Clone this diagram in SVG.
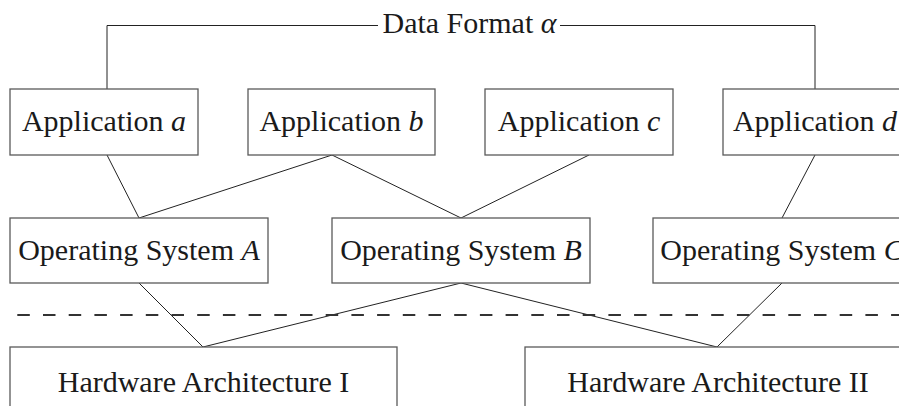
<svg xmlns="http://www.w3.org/2000/svg" width="899" height="406" viewBox="0 0 899 406">
<style>
.box{fill:#ffffff;stroke:#5a5a5a;stroke-width:1.3}
.lbl{font-family:"Liberation Serif","Times New Roman",serif;font-size:30px;fill:#1a1a1a;text-anchor:middle}
.it{font-style:italic}
.con{fill:none;stroke:#222222;stroke-width:1}
.dash{fill:none;stroke:#333333;stroke-width:2;stroke-dasharray:12.5 13.2}
</style>
<rect width="899" height="406" fill="#ffffff"/>
<g id="connectors">
<polyline class="con" points="107,89 107,25.5 378,25.5"/>
<polyline class="con" points="560,25.5 815,25.5 815,89"/>
<line class="con" x1="107" y1="155" x2="139" y2="218"/>
<line class="con" x1="332" y1="155" x2="139" y2="218"/>
<line class="con" x1="332" y1="155" x2="461" y2="218"/>
<line class="con" x1="589" y1="155" x2="461" y2="218"/>
<line class="con" x1="815" y1="155" x2="782" y2="218"/>
<line class="con" x1="139" y1="283" x2="203" y2="347"/>
<line class="con" x1="461" y1="283" x2="203" y2="347"/>
<line class="con" x1="461" y1="283" x2="717" y2="347"/>
<line class="con" x1="782" y1="283" x2="717" y2="347"/>
</g>
<g id="separator">
<line class="dash" x1="17.3" y1="315" x2="899" y2="315"/>
</g>
<g id="data-format">
<text class="lbl" x="469.5" y="33">Data Format <tspan class="it">α</tspan></text>
</g>
<g id="app-a">
<rect class="box" x="10" y="89" width="188" height="66"/>
<text class="lbl" x="104" y="131">Application <tspan class="it">a</tspan></text>
</g>
<g id="app-b">
<rect class="box" x="248" y="89" width="187" height="66"/>
<text class="lbl" x="341.5" y="131">Application <tspan class="it">b</tspan></text>
</g>
<g id="app-c">
<rect class="box" x="485" y="89" width="188" height="66"/>
<text class="lbl" x="579" y="131">Application <tspan class="it">c</tspan></text>
</g>
<g id="app-d">
<rect class="box" x="723" y="89" width="188" height="66"/>
<text class="lbl" x="815" y="131">Application <tspan class="it">d</tspan></text>
</g>
<g id="os-a">
<rect class="box" x="10" y="218" width="258" height="65"/>
<text class="lbl" x="139" y="260">Operating System <tspan class="it">A</tspan></text>
</g>
<g id="os-b">
<rect class="box" x="332" y="218" width="258" height="65"/>
<text class="lbl" x="461" y="260">Operating System <tspan class="it">B</tspan></text>
</g>
<g id="os-c">
<rect class="box" x="653" y="218" width="258" height="65"/>
<text class="lbl" x="782" y="260">Operating System <tspan class="it">C</tspan></text>
</g>
<g id="hw-1">
<rect class="box" x="10" y="347" width="387" height="70"/>
<text class="lbl" x="203.5" y="392">Hardware Architecture I</text>
</g>
<g id="hw-2">
<rect class="box" x="525" y="347" width="387" height="70"/>
<text class="lbl" x="718" y="392">Hardware Architecture II</text>
</g>
</svg>
